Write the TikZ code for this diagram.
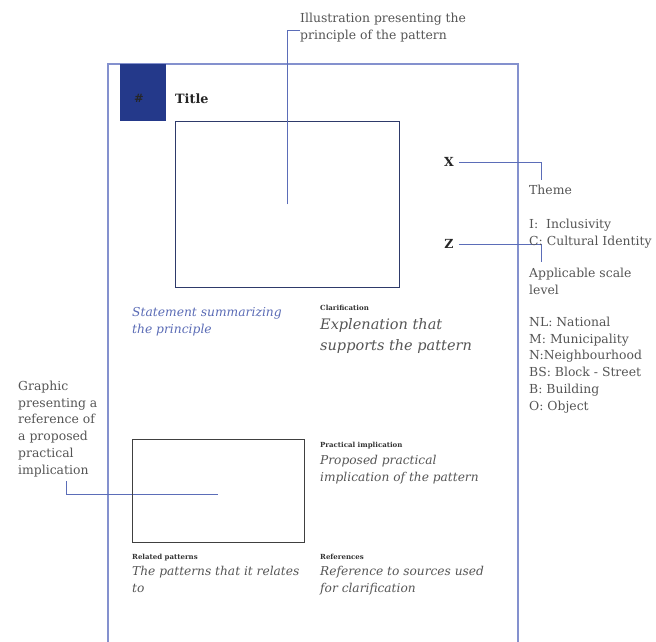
\documentclass[tikz,border=0pt]{standalone}
\usepackage{fontspec}
\setmainfont{DejaVu Serif}
\begin{document}
\definecolor{frame}{HTML}{8491CE}
\definecolor{leader}{HTML}{5B6DB8}
\definecolor{navy}{HTML}{24398A}
\definecolor{boxline}{HTML}{2E3A6A}
\definecolor{txt}{HTML}{555555}
\definecolor{stmt}{HTML}{5A6BB5}
\begin{tikzpicture}[x=1pt,y=-1pt,
  body/.style={inner sep=0pt,anchor=base west,align=left,text=txt,font=\fontsize{12.4}{16.7}\selectfont},
  big/.style={inner sep=0pt,anchor=base west,align=left,text=txt,font=\fontsize{14.5}{21}\selectfont\itshape},
  ital/.style={inner sep=0pt,anchor=base west,align=left,text=txt,font=\fontsize{12.2}{16.5}\selectfont\itshape},
  tiny/.style={inner sep=0pt,anchor=base west,text=black!80,font=\fontsize{7}{8}\selectfont\bfseries},
  mark/.style={inner sep=0pt,font=\fontsize{12.5}{14}\selectfont\bfseries,text=black!85},
  lead/.style={draw=leader,line width=0.9pt},
  frm/.style={draw=frame,line width=1.2pt}]
\useasboundingbox (0,0) rectangle (656,641);
% page frame
\draw[frm] (108,645) -- (108,64) -- (518,64) -- (518,645);
% number square
\node[fill=navy,minimum width=46pt,minimum height=57pt,inner sep=0pt,anchor=north west] (sq) at (120,64) {};
\node[inner sep=0pt,font=\fontsize{11.5}{13}\selectfont\bfseries,text=black!85] (hash) at (139,98) {\#};
\node[inner sep=0pt,anchor=base west,font=\fontsize{12.8}{15}\selectfont\bfseries,text=black!85] (title) at (175,103) {Title};
% illustration box
\node[draw=boxline,line width=0.8pt,minimum width=224pt,minimum height=166pt,inner sep=0pt,anchor=north west] (ill) at (175,121) {};
\node[body] (illlbl) at (300,39) {Illustration presenting the\\principle of the pattern};
\coordinate (illc) at (300,30);
\draw[lead] (ill.center) |- (illc);
% statement
\node[inner sep=0pt,anchor=base west,align=left,text=stmt,font=\fontsize{12.3}{17}\selectfont\itshape] (stmt) at (132,333) {Statement summarizing\\the principle};
% clarification
\node[tiny] (clar) at (320,310) {Clarification};
\node[big] (expl) at (320,350) {Explenation that\\supports the pattern};
% X and Z
\node[inner sep=0pt,font=\fontsize{12.5}{14}\selectfont\bfseries,text=black!85] (X) at (449,162) {X};
\node[inner sep=0pt,font=\fontsize{12.5}{14}\selectfont\bfseries,text=black!85] (Z) at (449,244) {Z};
\coordinate (xe) at (541,180);
\coordinate (ze) at (541,262);
\draw[lead] (X.east) ++(5pt,0) -| (xe);
\draw[lead] (Z.east) ++(5pt,0) -| (ze);
\node[body] (theme) at (529,194) {Theme};
\node[body] (themes) at (529,245) {I:\ \ Inclusivity\\C: Cultural Identity};
\node[body] (scale) at (529,294) {Applicable scale\\level};
\node[body] (scales) at (529,410) {NL: National\\M: Municipality\\N:Neighbourhood\\BS: Block - Street\\B: Building\\O: Object};
% graphic label
\node[body] (glbl) at (18,474) {Graphic\\presenting a\\reference of\\a proposed\\practical\\implication};
\coordinate (g1) at (66,481);
\coordinate (g2) at (218,494);
\draw[lead] (g1) |- (g2);
% practical box
\node[draw=black!75,line width=0.8pt,minimum width=172pt,minimum height=103pt,inner sep=0pt,anchor=north west] (prac) at (132,439) {};
\node[tiny] (practitle) at (320,447) {Practical implication};
\node[ital] (pracbody) at (320,481) {Proposed practical\\implication of the pattern};
% related / references
\node[tiny] (reltitle) at (132,559) {Related patterns};
\node[ital] (relbody) at (132,592) {The patterns that it relates\\to};
\node[tiny] (reftitle) at (320,559) {References};
\node[ital] (refbody) at (320,592) {Reference to sources used\\for clarification};
\end{tikzpicture}
\end{document}
